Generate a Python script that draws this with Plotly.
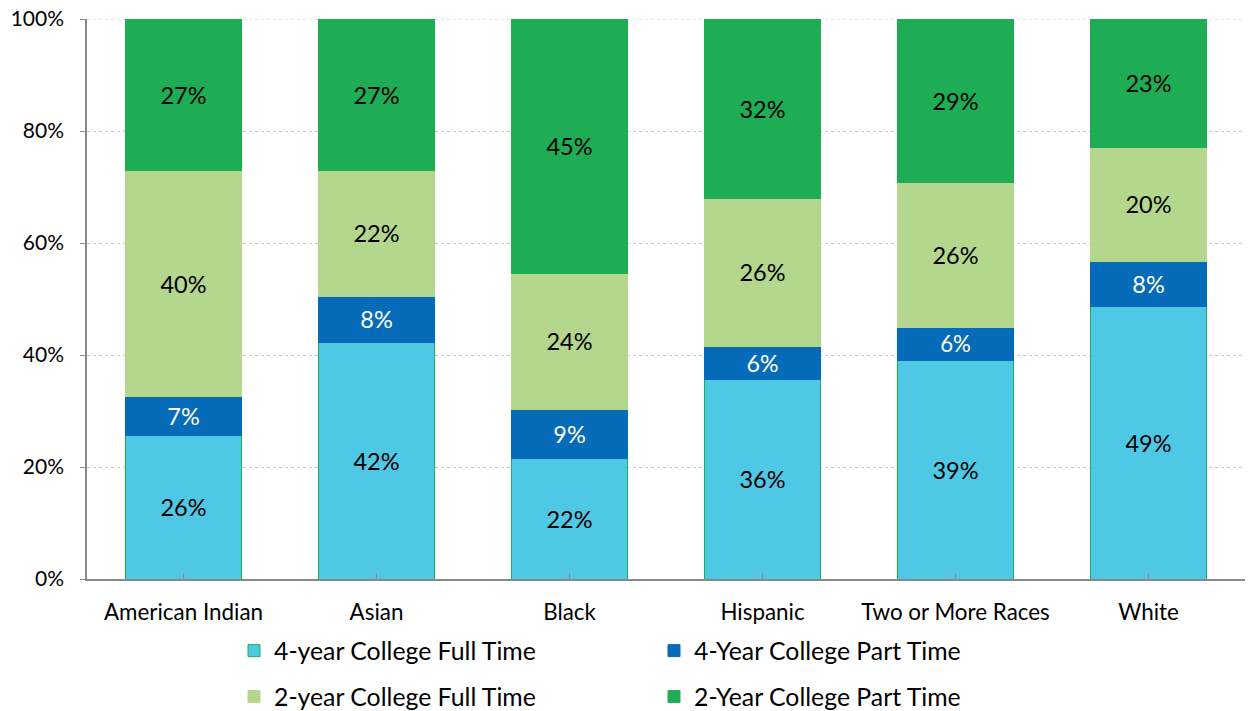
import plotly.graph_objects as go

categories = ["American Indian", "Asian", "Black", "Hispanic", "Two or More Races", "White"]
four_year_full = [25.6, 42.3, 21.6, 35.6, 39.1, 48.6]
four_year_part = [7.0, 8.2, 8.7, 6.0, 5.8, 8.1]
two_year_full = [40.3, 22.4, 24.3, 26.3, 25.9, 20.4]
two_year_part = [27.1, 27.1, 45.4, 32.1, 29.2, 22.9]
y_ticks = [0, 20, 40, 60, 80, 100]
y_tick_labels = ["0%", "20%", "40%", "60%", "80%", "100%"]

FONT = "Lato, 'Open Sans', sans-serif"

series = [
    ("4-year College Full Time", four_year_full, "#4FC8E6", "#1EB050", "black", "legend"),
    ("4-Year College Part Time", four_year_part, "#066BB8", "#066BB8", "white", "legend"),
    ("2-year College Full Time", two_year_full, "#B4D78D", "#B4D78D", "black", "legend2"),
    ("2-Year College Part Time", two_year_part, "#1EAD54", "#1EAD54", "black", "legend2"),
]

fig = go.Figure()
for name, vals, color, line, tcolor, leg in series:
    fig.add_trace(go.Bar(
        x=categories, y=vals, name=name,
        marker=dict(color=color, line=dict(color=line, width=1)),
        texttemplate="%{y:.0f}%", textposition="inside", insidetextanchor="middle",
        textfont=dict(color=tcolor, size=23.5, family=FONT),
        textangle=0, legend=leg,
    ))

leg_common = dict(orientation="h", xref="container", yref="paper",
                  x=0.1875, xanchor="left", yanchor="middle",
                  entrywidth=375, entrywidthmode="pixels",
                  font=dict(size=24.8), traceorder="normal")

fig.update_layout(
    barmode="stack",
    bargap=0.4,
    width=1248, height=711,
    margin=dict(l=87, r=3, t=19, b=132, autoexpand=False),
    plot_bgcolor="white", paper_bgcolor="white",
    font=dict(family=FONT, size=21, color="black"),
    legend=dict(y=-0.1286, **leg_common),
    legend2=dict(y=-0.2107, **leg_common),
    showlegend=True,
)
# dotted gridline at the top of the value axis (plotly omits the edge gridline)
fig.add_shape(type="line", xref="paper", yref="y", x0=0, x1=1, y0=y_ticks[-1], y1=y_ticks[-1],
              line=dict(color="#C8C8C8", width=1, dash="dot"), layer="below")
fig.update_xaxes(
    automargin=False,
    showline=True, linecolor="#888888", linewidth=1.5,
    ticks="inside", ticklen=6, tickcolor="#888888",
    tickfont=dict(size=22.4), ticklabelstandoff=12,
)
fig.update_yaxes(
    automargin=False,
    range=[0, 100], tickvals=y_ticks, ticktext=y_tick_labels,
    showline=True, linecolor="#888888", linewidth=1.5,
    ticks="outside", ticklen=5, tickcolor="#888888",
    showgrid=True, gridcolor="#C8C8C8", griddash="dot", gridwidth=1,
    zeroline=False, tickfont=dict(size=21), ticklabelstandoff=12,
    ticklabeloverflow="allow",
)

fig.write_html("out.html",
               config={"displayModeBar": False},
               post_script="document.body.style.margin='0';document.body.style.overflow='hidden';")
